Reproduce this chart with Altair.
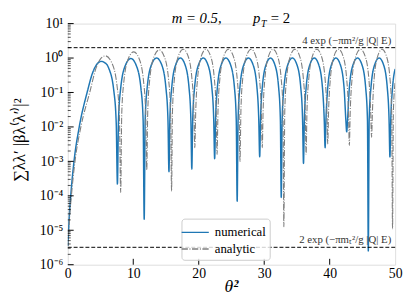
import altair as alt
import pandas as pd

# ---------------- data ----------------
num_x = [0.02, 0.2, 0.45, 0.95, 1.75, 2.95, 3.85, 4.5, 5.1, 5.7, 6.23, 7.04, 7.4, 7.58,
         7.74, 8.07, 8.81, 9.63, 10.44, 11.18, 11.51, 11.67,
         11.82, 12.12, 12.80, 13.56, 14.32, 14.99, 15.30, 15.45,
         15.59, 15.87, 16.50, 17.20, 17.89, 18.52, 18.80, 18.94,
         19.08, 19.36, 19.99, 20.69, 21.38, 22.01, 22.29, 22.43,
         22.57, 22.84, 23.46, 24.15, 24.84, 25.46, 25.73, 25.87,
         26.01, 26.28, 26.90, 27.59, 28.28, 28.90, 29.17, 29.31,
         29.44, 29.70, 30.30, 30.96, 31.61, 32.21, 32.47, 32.6,
         32.74, 33.01, 33.62, 34.30, 34.98, 35.59, 35.86, 36.0,
         36.13, 36.40, 36.99, 37.65, 38.31, 38.90, 39.17, 39.3,
         39.43, 39.70, 40.29, 40.95, 41.61, 42.20, 42.47, 42.6,
         42.73, 43.00, 43.59, 44.25, 44.91, 45.50, 45.77, 45.9,
         46.03, 46.30, 46.89, 47.55, 48.21, 48.80, 49.07, 49.2,
         49.33, 49.6, 50.0]
num_y = [3.5e-6, 2e-5, 1e-4, 1e-3, 1e-2, 0.1, 0.4, 0.68, 0.80, 0.72, 0.52, 0.108, 0.0126, 2.2e-4,
         0.015, 0.128, 0.621, 0.97, 0.621, 0.128, 0.015, 2.1e-5,
         0.0158, 0.135, 0.654, 1.0, 0.654, 0.135, 0.0158, 5e-4,
         0.0158, 0.135, 0.654, 1.0, 0.654, 0.135, 0.0158, 6e-4,
         0.0158, 0.135, 0.654, 1.0, 0.654, 0.135, 0.0158, 1.2e-3,
         0.0158, 0.135, 0.654, 1.0, 0.654, 0.135, 0.0158, 7e-5,
         0.0158, 0.135, 0.654, 1.0, 0.654, 0.135, 0.0158, 1.35e-3,
         0.0158, 0.135, 0.654, 1.0, 0.654, 0.135, 0.0158, 9e-5,
         0.0158, 0.135, 0.654, 1.0, 0.654, 0.135, 0.0158, 8.7e-4,
         0.0158, 0.135, 0.654, 1.0, 0.654, 0.135, 0.0158, 2.5e-3,
         0.0158, 0.135, 0.654, 1.0, 0.654, 0.135, 0.0158, 7.2e-3,
         0.0158, 0.135, 0.654, 1.0, 0.654, 0.135, 0.0158, 2.5e-6,
         0.0158, 0.135, 0.654, 1.0, 0.654, 0.135, 0.0158, 1.35e-3,
         0.0158, 0.135, 0.48]

ana_x = [0.02, 0.25, 0.55, 1.1, 2.0, 3.35, 4.3, 5.0, 5.73, 6.67, 7.52, 7.89, 8.08,
         8.24, 8.56, 9.27, 10.07, 10.87, 11.58, 11.90, 12.06,
         12.21, 12.51, 13.20, 13.96, 14.71, 15.40, 15.70, 15.85,
         15.99, 16.28, 16.92, 17.63, 18.34, 18.97, 19.26, 19.4,
         19.54, 19.81, 20.42, 21.10, 21.78, 22.39, 22.66, 22.8,
         22.94, 23.22, 23.85, 24.55, 25.25, 25.88, 26.16, 26.3,
         26.44, 26.71, 27.32, 28.0, 28.68, 29.29, 29.56, 29.7,
         29.83, 30.10, 30.69, 31.35, 32.01, 32.60, 32.87, 33.0,
         33.14, 33.41, 34.02, 34.70, 35.38, 35.99, 36.26, 36.4,
         36.53, 36.80, 37.39, 38.05, 38.71, 39.30, 39.57, 39.7,
         39.83, 40.10, 40.69, 41.35, 42.01, 42.60, 42.87, 43.0,
         43.14, 43.41, 44.02, 44.70, 45.38, 45.99, 46.26, 46.4,
         46.53, 46.78, 47.36, 48.0, 48.64, 49.22, 49.47, 49.6,
         49.73, 50.0]
ana_y = [3.5e-6, 2e-5, 1e-4, 1e-3, 1e-2, 0.1, 0.5, 0.95, 1.16, 0.76, 0.157, 0.018, 1.26e-4,
         0.0239, 0.204, 0.988, 1.51, 0.988, 0.204, 0.0239, 5.6e-4,
         0.0273, 0.234, 1.13, 1.73, 1.13, 0.234, 0.0273, 1.35e-4,
         0.0284, 0.243, 1.18, 1.8, 1.18, 0.243, 0.0284, 2.5e-3,
         0.0284, 0.243, 1.18, 1.8, 1.18, 0.243, 0.0284, 1.6e-3,
         0.0284, 0.243, 1.18, 1.8, 1.18, 0.243, 0.0284, 1e-3,
         0.0284, 0.243, 1.18, 1.8, 1.18, 0.243, 0.0284, 2.5e-3,
         0.0284, 0.243, 1.18, 1.8, 1.18, 0.243, 0.0284, 1.26e-5,
         0.0284, 0.243, 1.18, 1.8, 1.18, 0.243, 0.0284, 1.6e-3,
         0.0284, 0.243, 1.18, 1.8, 1.18, 0.243, 0.0284, 3.2e-3,
         0.0284, 0.243, 1.18, 1.8, 1.18, 0.243, 0.0284, 2.9e-3,
         0.0284, 0.243, 1.18, 1.8, 1.18, 0.243, 0.0284, 5e-3,
         0.0284, 0.243, 1.18, 1.8, 1.18, 0.243, 0.0284, 1.1e-5,
         0.0284, 0.2]

ref_values = [2.0, 3.2e-6]
ref_labels = ["4\u00a0exp\u00a0(\u2212\u03c0m\u00b2/g\u00a0|Q|\u00a0E)",
              "2\u00a0exp\u00a0(\u2212\u03c0m\u209c\u00b2/g\u00a0|Q|\u00a0E)"]
series_names = ["numerical", "analytic"]
x_ticks = [0, 10, 20, 30, 40, 50]
y_ticks = [1e-6, 1e-5, 1e-4, 1e-3, 1e-2, 1e-1, 1, 10]
y_minor = [k * 10.0 ** e for e in range(-6, 1) for k in range(2, 10)]

W, H = 334, 246
FONT = "Liberation Serif"

xscale = alt.Scale(domain=[0, 50], nice=False, zero=False)
yscale = alt.Scale(type="log", domain=[1e-6, 10], nice=False)

xaxis = alt.Axis(values=x_ticks, ticks=False, domain=False, grid=False, title=None,
                 labelFont=FONT, labelFontSize=14, labelPadding=2, labelColor="black",
                 labelFlush=False)
yaxis = alt.Axis(values=y_ticks, ticks=False, domain=False, grid=False, title=None,
                 labelFont=FONT, labelFontSize=14, labelPadding=5, labelColor="black",
                 labelFlush=False,
                 labelExpr="['10\u207b\u2076','10\u207b\u2075','10\u207b\u2074','10\u207b\u00b3','10\u207b\u00b2','10\u207b\u00b9','10\u2070','10\u00b9'][round(log(datum.value)/LN10)+6]")

df = pd.concat([
    pd.DataFrame({"x": num_x, "y": num_y, "series": series_names[0]}),
    pd.DataFrame({"x": ana_x, "y": ana_y, "series": series_names[1]}),
])

legend = alt.Legend(title=None, orient="none", legendX=116, legendY=199,
                    fillColor="rgba(255,255,255,0.8)", strokeColor="#cccccc",
                    cornerRadius=3, padding=4, labelFont=FONT, labelFontSize=13,
                    labelColor="black", symbolType="M-1.55,0H1.55", symbolSize=320,
                    symbolStrokeWidth=1.5, rowPadding=0, labelOffset=10)
color = alt.Color("series:N", scale=alt.Scale(domain=series_names, range=["#1f77b4", "#7f7f7f"]),
                  legend=legend)
dash = alt.StrokeDash("series:N", scale=alt.Scale(domain=series_names,
                      range=[[1, 0], [6.4, 1.6, 1, 1.6]]), legend=legend)

base = alt.Chart(df)
num_line = base.transform_filter(alt.datum.series == "numerical").mark_line(
    strokeWidth=1.5, interpolate="monotone", clip=True).encode(
    x=alt.X("x:Q", scale=xscale, axis=xaxis),
    y=alt.Y("y:Q", scale=yscale, axis=yaxis),
    color=color, strokeDash=dash, order="x:Q")
ana_line = base.transform_filter(alt.datum.series == "analytic").mark_line(
    strokeWidth=1.1, interpolate="monotone", clip=True).encode(
    x=alt.X("x:Q", scale=xscale, axis=xaxis),
    y=alt.Y("y:Q", scale=yscale, axis=yaxis),
    color=color, strokeDash=dash, order="x:Q")

ref_df = pd.DataFrame({"y": ref_values, "label": ref_labels})
ref_rules = alt.Chart(ref_df).mark_rule(color="black", strokeWidth=1, strokeDash=[4, 2]).encode(
    y=alt.Y("y:Q", scale=yscale, axis=yaxis))
ref_text = alt.Chart(ref_df).mark_text(align="right", baseline="bottom", dx=-4, dy=-2,
                                       font=FONT, fontSize=11, color="#333333").encode(
    x=alt.X("xx:Q", scale=xscale, axis=xaxis), y=alt.Y("y:Q", scale=yscale, axis=yaxis),
    text="label:N").transform_calculate(xx="50")

ymaj = alt.Chart(pd.DataFrame({"v": y_ticks})).mark_rule(color="black", strokeWidth=1).encode(
    y=alt.Y("v:Q", scale=yscale, axis=yaxis), x=alt.value(0), x2=alt.value(6))
ymin = alt.Chart(pd.DataFrame({"v": y_minor})).mark_rule(color="black", strokeWidth=0.7).encode(
    y=alt.Y("v:Q", scale=yscale, axis=yaxis), x=alt.value(0), x2=alt.value(3))
xmaj = alt.Chart(pd.DataFrame({"v": x_ticks[1:-1]})).mark_rule(color="black", strokeWidth=1).encode(
    x=alt.X("v:Q", scale=xscale, axis=xaxis), y=alt.value(H), y2=alt.value(H - 6))

one = pd.DataFrame({"a": [0]})
t1 = alt.Chart(one).mark_text(text="m = 0.5,", align="left", baseline="top",
                              font=FONT, fontSize=15, fontStyle="italic").encode(
    x=alt.value(106), y=alt.value(-13))
t1b = alt.Chart(one).mark_text(text="p", align="left", baseline="top",
                               font=FONT, fontSize=15, fontStyle="italic").encode(
    x=alt.value(189), y=alt.value(-13))
t2 = alt.Chart(one).mark_text(text="T", align="left", baseline="top",
                              font=FONT, fontSize=10, fontStyle="italic").encode(
    x=alt.value(197), y=alt.value(-5))
t3 = alt.Chart(one).mark_text(text="= 2", align="left", baseline="top",
                              font=FONT, fontSize=15).encode(
    x=alt.value(207), y=alt.value(-13))
ytitle = alt.Chart(one).mark_text(text="\u2211\u03bb\u03bb\u2032 |\u03b2\u03bb\u207d\u03bb\u2032\u207e|\u00b2",
                                  angle=270, align="center", baseline="middle",
                                  font=FONT, fontSize=17).encode(
    x=alt.value(-49), y=alt.value(H / 2 - 4))
xtitle = alt.Chart(one).mark_text(text="\u03b8\u0307\u00b2", align="center", baseline="middle",
                                  font=FONT, fontSize=18, fontStyle="italic").encode(
    x=alt.value(W / 2), y=alt.value(H + 23))

chart = alt.layer(num_line, ana_line, ref_rules, ref_text, ymaj, ymin, xmaj,
                  t1, t1b, t2, t3, ytitle, xtitle).properties(
    width=W, height=H,
    autosize=alt.AutoSizeParams(type="none"),
    padding={"left": 61, "top": 13, "right": 8, "bottom": 28},
).configure_view(stroke="black", strokeWidth=1).configure(background="white")

chart.save("out.html", embed_options={"renderer": "svg", "actions": False})
